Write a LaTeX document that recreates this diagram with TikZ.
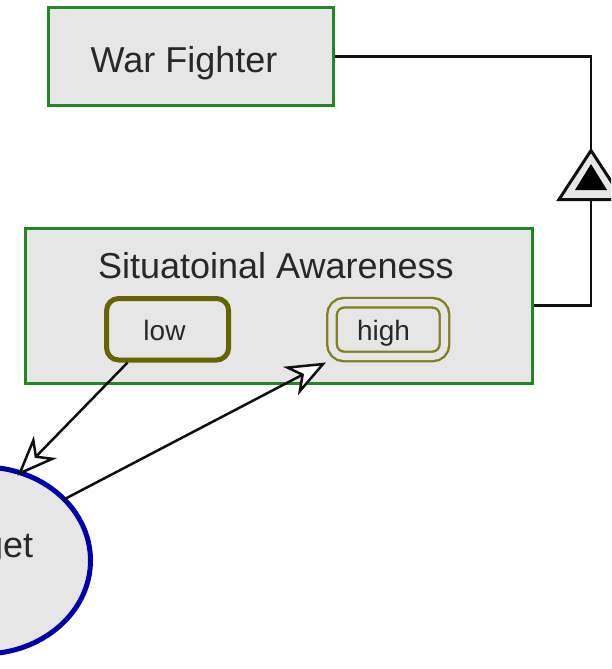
\documentclass[tikz,border=0pt]{standalone}
\usepackage{fontspec}
\setmainfont{Liberation Sans}
\usetikzlibrary{arrows.meta,shapes.geometric}

\definecolor{boxfill}{RGB}{230,230,230}
\definecolor{boxgreen}{RGB}{34,135,34}
\definecolor{olivedark}{RGB}{100,100,0}
\definecolor{olivelight}{RGB}{128,128,32}
\definecolor{ellblue}{RGB}{0,0,170}
\definecolor{ink}{RGB}{15,15,15}
\definecolor{inktext}{RGB}{40,40,40}

\begin{document}
\begin{tikzpicture}[x=1pt,y=-1pt,
  classbox/.style={rectangle, draw=boxgreen, line width=3pt, fill=boxfill,
    inner sep=0pt},
  lowstate/.style={rectangle, rounded corners=12pt, draw=olivedark,
    line width=5pt, fill=boxfill, inner sep=0pt},
  highstate/.style={rectangle, rounded corners=12pt, draw=olivelight,
    line width=2.4pt, double=boxfill, double distance=7.1pt,
    fill=boxfill, inner sep=0pt, outer sep=6pt},
  actor/.style={ellipse, draw=ellblue, line width=5pt, fill=boxfill,
    inner sep=0pt, outer sep=0pt},
  biglbl/.style={font=\fontsize{36}{43}\selectfont, text=inktext,
    anchor=base, inner sep=0pt},
  smalllbl/.style={font=\fontsize{28}{34}\selectfont, text=inktext,
    anchor=base, inner sep=0pt},
  link/.style={draw=ink, line width=2.8pt},
  flow/.style={draw=ink, line width=2.5pt,
    -{Stealth[length=40pt, width=32pt, inset=12pt, fill=white]}},
  genmark/.style={draw=ink, line width=3pt, fill=boxfill, line join=miter},
]
\useasboundingbox (0,0) rectangle (611,669);
\clip (0,0) rectangle (611,669);

% classes
\node[classbox, minimum width=285.5pt, minimum height=98pt]
  (wf) at (190.75,56.5) {};
\node[biglbl] (wflabel) at (184,72) {War Fighter};

\node[classbox, minimum width=507pt, minimum height=154.5pt]
  (sa) at (279,305.75) {};
\node[biglbl] (salabel) at (275.9,278.3) {Situatoinal Awareness};

% states
\node[lowstate, minimum width=122pt, minimum height=61.5pt]
  (low) at (167.6,329.25) {};
\node[smalllbl] (lowlabel) at (164.5,340) {low};

\node[highstate, minimum width=112.5pt, minimum height=53.75pt]
  (high) at (388.25,329.6) {};
\node[smalllbl] (highlabel) at (383.5,340) {high};

% target actor
\node[actor, minimum width=215pt, minimum height=187pt]
  (target) at (-17,560.5) {};
\node[biglbl] (targetlabel) at (-17,557.3) {Target};

% generalization marker
\coordinate (apex) at (591,150.5);
\coordinate (tribase) at (591,199.5);
\draw[genmark] (apex) -- ++(32,49) -- ++(-64,0) -- cycle;
\fill[black] (591,164) -- ++(16,26) -- ++(-32,0) -- cycle;

\draw[link] (wf.east) -| (apex);
\draw[link] (sa.east) -| (tribase);

% transitions
\draw[flow, shorten >=-4pt] ([xshift=-40pt]low.south) -- (target.67);
\draw[flow] (target.37) -- (high.south west);
\end{tikzpicture}
\end{document}
